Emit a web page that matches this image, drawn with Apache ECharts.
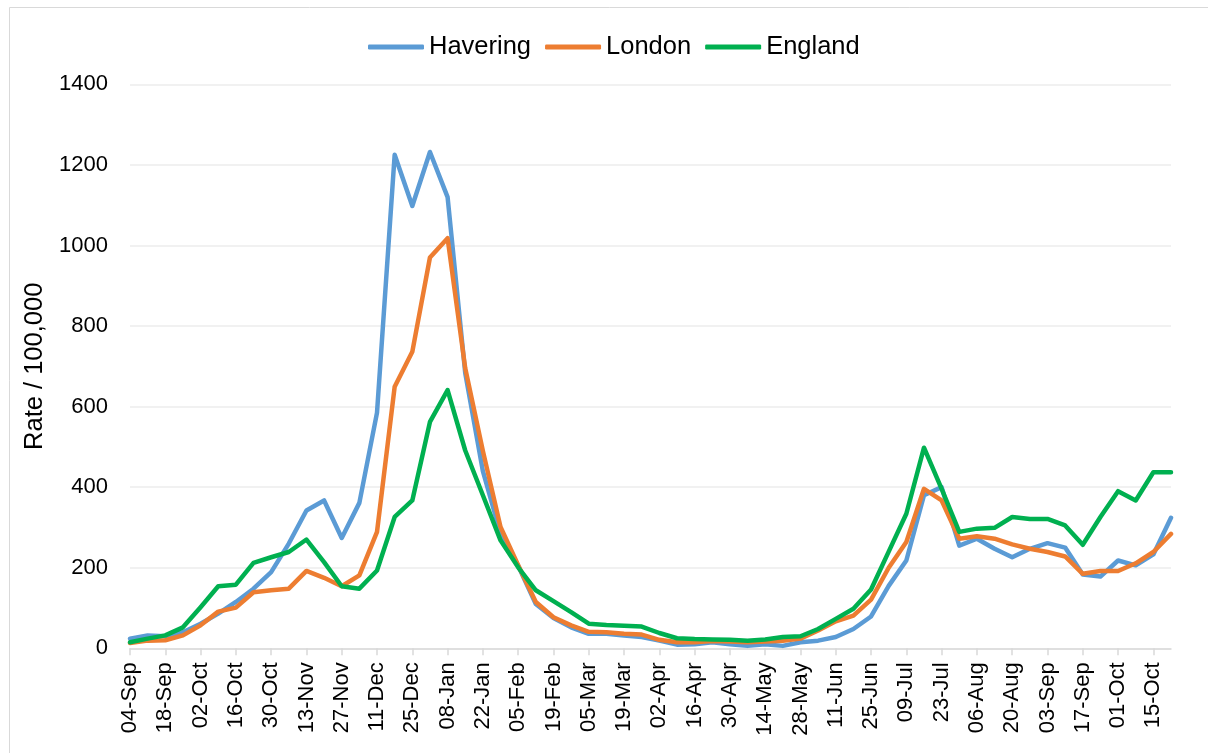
<!DOCTYPE html>
<html>
<head>
<meta charset="utf-8">
<script src="https://cdn.jsdelivr.net/npm/echarts@6/dist/echarts.min.js"></script>
<style>
html,body{margin:0;padding:0;background:#fff;}
#chart{width:1208px;height:753px;}
</style>
</head>
<body>
<div id="chart"></div>
<script>
const categories = ['04-Sep','11-Sep','18-Sep','25-Sep','02-Oct','09-Oct','16-Oct','23-Oct','30-Oct','06-Nov','13-Nov','20-Nov','27-Nov','04-Dec','11-Dec','18-Dec','25-Dec','01-Jan','08-Jan','15-Jan','22-Jan','29-Jan','05-Feb','12-Feb','19-Feb','26-Feb','05-Mar','12-Mar','19-Mar','26-Mar','02-Apr','09-Apr','16-Apr','23-Apr','30-Apr','07-May','14-May','21-May','28-May','04-Jun','11-Jun','18-Jun','25-Jun','02-Jul','09-Jul','16-Jul','23-Jul','30-Jul','06-Aug','13-Aug','20-Aug','27-Aug','03-Sep','10-Sep','17-Sep','24-Sep','01-Oct','08-Oct','15-Oct','22-Oct'];

const havering = [24,32,30,40,61,86,115,148,189,260,342,367,274,361,585,1225,1098,1232,1120,683,440,285,205,110,75,52,36,36,32,28,19,9,10,15,10,6,10,6,15,19,28,48,79,155,218,380,400,255,272,247,226,247,261,250,183,178,218,206,233,324];

const london = [13,19,20,32,57,91,101,139,144,148,192,175,154,181,289,649,736,970,1018,695,490,301,206,115,77,57,41,40,36,34,21,15,15,18,17,15,17,19,24,44,67,81,121,200,264,396,367,272,278,272,258,247,239,228,185,192,192,211,239,284];

const england = [15,24,32,52,102,154,158,212,226,239,270,214,154,148,193,326,367,562,641,491,380,268,201,144,117,90,61,58,56,54,38,25,23,22,21,19,22,28,30,48,73,98,146,240,334,498,396,289,297,299,326,321,321,305,257,326,390,367,437,437];

const yTicks = {min: 0, max: 1400, interval: 200};
const yName = 'Rate / 100,000';

const FONT = '"Liberation Sans", Arial, sans-serif';
const chart = echarts.init(document.getElementById('chart'), null, {renderer: 'canvas'});

function lineSeries(name, data, color) {
  return {
    name: name, type: 'line', data: data, symbol: 'none', smooth: false,
    lineStyle: {width: 4.5, color: color, cap: 'round', join: 'round'},
    itemStyle: {color: color}
  };
}

chart.setOption({
  animation: false,
  backgroundColor: '#ffffff',
  graphic: [{
    type: 'rect', silent: true,
    shape: {x: 9.5, y: 7.5, width: 1220, height: 780},
    style: {fill: 'none', stroke: '#d9d9d9', lineWidth: 1}
  }],
  legend: {
    top: 29, left: 363,
    icon: 'roundRect', itemWidth: 56, itemHeight: 5, itemGap: 14,
    textStyle: {fontFamily: FONT, fontSize: 25.5, color: '#000'},
    data: ['Havering','London','England']
  },
  grid: {left: 130, right: 37, top: 84.3, bottom: 104.7, containLabel: false},
  xAxis: {
    type: 'category', data: categories, boundaryGap: false,
    axisLine: {show: true, lineStyle: {color: '#d9d9d9', width: 1.5}},
    axisTick: {show: true, interval: 1, length: 7, lineStyle: {color: '#d9d9d9', width: 1.5}},
    axisLabel: {interval: 1, rotate: 90, margin: 14, fontFamily: FONT, fontSize: 22, color: '#000'},
    splitLine: {show: false}
  },
  yAxis: {
    type: 'value', min: yTicks.min, max: yTicks.max, interval: yTicks.interval,
    name: yName, nameLocation: 'middle', nameGap: 82, nameRotate: 90,
    nameTextStyle: {fontFamily: FONT, fontSize: 25.5, color: '#000'},
    axisLine: {show: false}, axisTick: {show: false},
    axisLabel: {margin: 22, fontFamily: FONT, fontSize: 22, color: '#000', formatter: function (v) { return String(v); }},
    splitLine: {show: true, lineStyle: {color: '#ececec', width: 1.5}}
  },
  series: [
    lineSeries('Havering', havering, '#5b9bd5'),
    lineSeries('London', london, '#ed7d31'),
    lineSeries('England', england, '#00b050')
  ]
});
</script>
</body>
</html>
